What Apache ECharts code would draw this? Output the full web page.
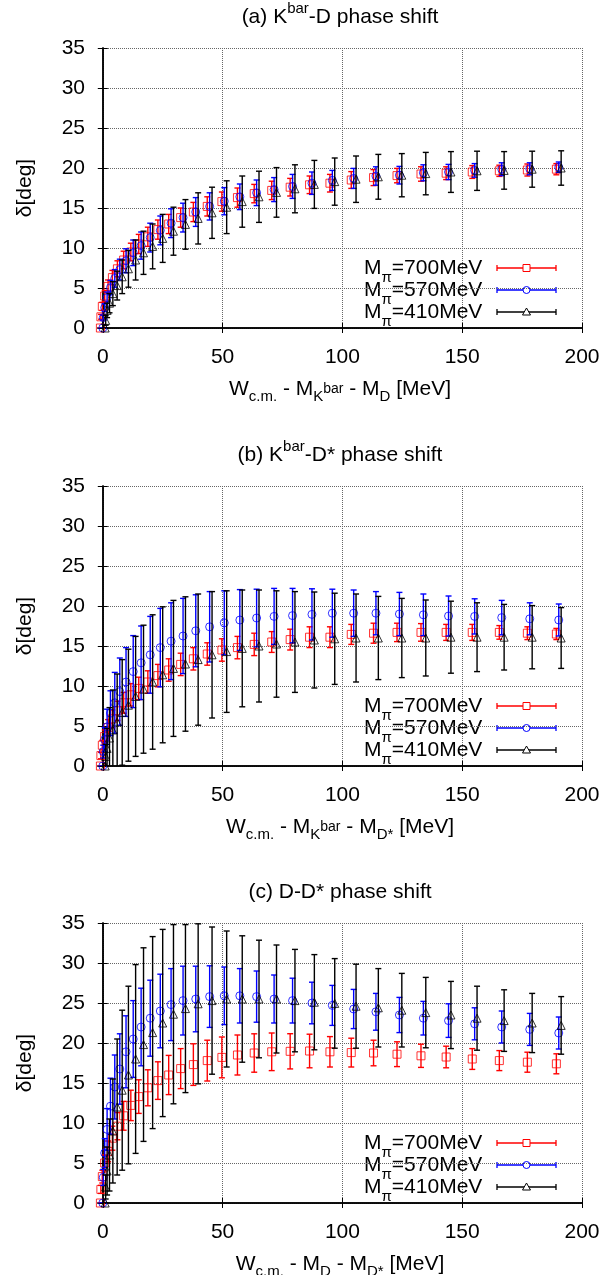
<!DOCTYPE html>
<html><head><meta charset="utf-8">
<script src="https://cdn.jsdelivr.net/npm/echarts@6/dist/echarts.min.js"></script>
<style>html,body{margin:0;padding:0;background:#fff}#c{width:605px;height:1275px}</style>
</head><body><div id="c"></div>
<script>
// ---------- data ----------
const xTicks = [0, 50, 100, 150, 200];
const seriesNames = ['700MeV', '570MeV', '410MeV'];
const xRed   = [-1.0,-0.8,-0.2,0.8,2.2,4.0,6.1,8.7,11.7,15.0,18.8,23.0,27.5,32.5,37.8,43.6,49.7,56.2,63.2,70.5,78.2,86.3,94.8,103.7,113.0,122.8,132.8,143.3,154.2,165.5,177.2,189.3];
const xBlue  = [0,0.2,0.8,1.8,3.2,5.0,7.1,9.7,12.7,16.0,19.8,24.0,28.5,33.5,38.8,44.6,50.7,57.2,64.2,71.5,79.2,87.3,95.8,104.7,114.0,123.8,133.8,144.3,155.2,166.5,178.2,190.3];
const xBlack = [1.0,1.2,1.8,2.8,4.2,6.0,8.1,10.7,13.7,17.0,20.8,25.0,29.5,34.5,39.8,45.6,51.7,58.2,65.2,72.5,80.2,88.3,96.8,105.7,115.0,124.8,134.8,145.3,156.2,167.5,179.2,191.3];

const aRed      = [0,1.4,2.7,4.0,5.2,6.3,7.4,8.5,9.5,10.5,11.4,12.3,13.0,13.8,14.5,15.2,15.8,16.3,16.8,17.2,17.6,17.9,18.1,18.5,18.8,19.05,19.25,19.35,19.5,19.65,19.75,19.85];
const aRedErr   = [0,0.3,0.5,0.7,0.8,0.9,1.0,1.1,1.1,1.2,1.2,1.2,1.2,1.2,1.2,1.2,1.2,1.2,1.15,1.15,1.1,1.1,1.1,1.05,1.0,0.9,0.9,0.8,0.8,0.7,0.75,0.7];
const aBlue     = [0,1.3,2.55,3.8,5.05,6.2,7.3,8.4,9.4,10.3,11.3,12.2,13.1,13.8,14.5,15.2,15.85,16.4,16.9,17.3,17.7,18.1,18.45,18.7,19.0,19.1,19.4,19.5,19.7,19.85,19.9,20.1];
const aBlueErr  = [0,0.3,0.5,0.7,0.9,1.1,1.3,1.5,1.6,1.7,1.8,1.8,1.8,1.8,1.8,1.7,1.7,1.6,1.6,1.5,1.5,1.4,1.25,1.25,1.15,1.1,1.0,0.95,0.85,0.8,0.75,0.65];
const aBlack    = [0,0.95,2.2,3.1,4.3,5.3,6.4,7.4,8.5,9.4,10.2,11.2,12.1,12.95,13.7,14.4,15.1,15.8,16.4,16.95,17.4,17.95,18.3,18.6,18.9,19.1,19.3,19.5,19.65,19.7,19.85,20.0];
const aBlackErr = [0,0.6,0.9,1.2,1.5,1.8,2.1,2.3,2.5,2.7,2.8,3.0,3.0,3.1,3.2,3.2,3.3,3.2,3.2,3.1,3.0,3.0,2.95,2.9,2.8,2.7,2.65,2.55,2.45,2.35,2.25,2.15];

const bRed      = [0,1.3,2.6,3.7,4.8,5.9,6.9,7.9,8.9,9.7,10.5,11.3,12.0,12.7,13.4,14.0,14.5,14.8,15.2,15.5,15.8,16.1,16.1,16.45,16.6,16.7,16.7,16.7,16.7,16.7,16.6,16.5];
const bRedErr   = [0,0.4,0.6,0.8,1.0,1.1,1.2,1.3,1.4,1.4,1.4,1.4,1.4,1.4,1.4,1.4,1.4,1.4,1.4,1.3,1.3,1.3,1.3,1.25,1.25,1.15,1.1,1.0,1.0,0.85,0.8,0.7];
const bBlue     = [0,1.8,3.3,4.9,6.6,7.9,9.3,10.5,11.8,12.9,13.9,14.8,15.6,16.25,16.9,17.4,17.9,18.25,18.5,18.7,18.8,18.95,19.1,19.1,19.1,19.0,18.9,18.75,18.7,18.55,18.4,18.25];
const bBlueErr  = [0,0.8,1.5,2.2,2.8,3.8,4.2,4.3,4.5,4.6,4.8,4.9,4.8,4.7,4.5,4.4,4.0,3.8,3.6,3.5,3.4,3.2,3.0,2.9,2.7,2.7,2.6,2.5,2.2,2.15,2.0,2.0];
const bBlack    = [0,1.2,2.2,3.5,4.5,5.5,6.7,7.6,8.7,9.6,10.5,11.4,12.2,12.75,13.3,13.9,14.3,14.7,15.0,15.25,15.5,15.75,15.9,16.0,16.0,16.0,16.0,16.1,16.1,16.1,16.1,16.0];
const bBlackErr = [0,1.5,2.5,3.8,5.0,6.0,6.6,7.0,7.5,8.0,8.4,8.5,8.5,8.4,8.2,7.9,7.6,7.3,7.0,6.65,6.3,6.0,5.7,5.5,5.2,4.95,4.75,4.5,4.3,4.1,3.95,3.8];

const cRed      = [0,1.7,3.3,5.0,6.45,8.1,9.6,10.9,12.2,13.3,14.4,15.3,16.0,16.8,17.3,17.8,18.2,18.5,18.75,18.9,18.96,19.0,18.9,18.8,18.75,18.6,18.4,18.25,18.0,17.8,17.6,17.4];
const cRedErr   = [0,0.5,0.8,1.0,1.3,1.5,1.7,1.8,1.9,2.1,2.25,2.35,2.45,2.5,2.6,2.55,2.55,2.5,2.4,2.35,2.2,2.1,1.9,1.8,1.6,1.55,1.45,1.35,1.3,1.25,1.25,1.25];
const cBlue     = [0,3.2,6.25,9.2,12.1,14.5,16.75,18.9,20.5,22.0,23.1,24.0,24.8,25.3,25.5,25.8,25.9,25.9,25.8,25.5,25.3,25.0,24.7,24.25,23.9,23.5,23.1,22.8,22.4,22.0,21.7,21.25];
const cBlueErr  = [0,1.0,1.8,2.6,3.5,4.0,4.4,4.5,4.8,4.85,4.75,4.6,4.5,4.3,4.1,3.85,3.6,3.4,3.2,3.0,2.8,2.6,2.5,2.45,2.3,2.2,2.1,2.1,2.0,2.0,2.0,2.0];
const cBlack    = [0,2.0,4.0,6.0,9.0,12.0,14.1,16.0,18.0,19.8,21.3,22.5,23.6,24.3,24.9,25.3,25.5,25.5,25.5,25.5,25.3,25.1,24.95,24.6,24.4,24.1,23.8,23.5,23.1,22.8,22.5,22.2];
const cBlackErr = [0,1.5,3.0,4.5,6.5,8.5,10.0,11.1,11.8,12.1,12.0,11.7,11.2,10.5,10.0,9.2,8.5,7.9,7.35,6.75,6.4,5.95,5.6,5.25,4.9,4.6,4.4,4.2,4.0,3.85,3.7,3.6];

// ---------- layout / style ----------
const FONT = '"Liberation Sans", Arial, Helvetica, sans-serif';
const FS = 21;
const COLORS = ['#ff0000', '#0000ff', '#000000'];
const SYMBOLS = ['rect', 'circle', 'triangle'];
const GRID_LEFT = 98, GRID_W = 484, GRID_H = 280;
const TOPS = [48, 486, 923];

const panels = [
  { title: '{n|(a) K}{sup|bar}{n|-D phase shift}',
    xname: '{n|W}{sub|c.m.}{n| - M}{sub|K}{mid|bar}{n| - M}{sub|D}{n| [MeV]}',
    ys: [aRed, aBlue, aBlack], es: [aRedErr, aBlueErr, aBlackErr] },
  { title: '{n|(b) K}{sup|bar}{n|-D* phase shift}',
    xname: '{n|W}{sub|c.m.}{n| - M}{sub|K}{mid|bar}{n| - M}{sub|D*}{n| [MeV]}',
    ys: [bRed, bBlue, bBlack], es: [bRedErr, bBlueErr, bBlackErr] },
  { title: '{n|(c) D-D* phase shift}',
    xname: '{n|W}{sub|c.m.}{n| - M}{sub|D}{n| - M}{sub|D*}{n| [MeV]}',
    ys: [cRed, cBlue, cBlack], es: [cRedErr, cBlueErr, cBlackErr] }
];
const xs = [xRed, xBlue, xBlack];

const nameRich = {
  n:   { fontSize: FS, fontFamily: FONT, color: '#000', lineHeight: 25, verticalAlign: 'top' },
  sub: { fontSize: 15, fontFamily: FONT, color: '#000', verticalAlign: 'bottom' },
  mid: { fontSize: 14, fontFamily: FONT, color: '#000', verticalAlign: 'top', padding: [3, 0, 0, 0] }
};
const titleRich = {
  n:   { fontSize: FS, fontFamily: FONT, fill: '#000', color: '#000', lineHeight: 26, verticalAlign: 'bottom' },
  sup: { fontSize: 15, fontFamily: FONT, fill: '#000', color: '#000', verticalAlign: 'top' }
};
const legRich = {
  n: { fontSize: FS, fontFamily: FONT, fill: '#000', color: '#000', lineHeight: 28, verticalAlign: 'top' },
  s: { fontSize: 15, fontFamily: FONT, fill: '#000', color: '#000', verticalAlign: 'bottom' }
};

function errRender(color) {
  return function (params, api) {
    const x = api.value(0), y = api.value(1), e = api.value(2);
    const lo = api.coord([x, y - e]), hi = api.coord([x, y + e]);
    const w = 3;
    const st = { stroke: color, lineWidth: 1.4 };
    return { type: 'group', children: [
      { type: 'line', shape: { x1: lo[0], y1: lo[1], x2: hi[0], y2: hi[1] }, style: st },
      { type: 'line', shape: { x1: lo[0] - w, y1: lo[1], x2: lo[0] + w, y2: lo[1] }, style: st },
      { type: 'line', shape: { x1: hi[0] - w, y1: hi[1], x2: hi[0] + w, y2: hi[1] }, style: st }
    ]};
  };
}

const grid = [], xAxis = [], yAxis = [], series = [], graphic = [];
panels.forEach((p, i) => {
  const top = TOPS[i], bottom = top + GRID_H;
  grid.push({ left: GRID_LEFT, top: top, width: GRID_W, height: GRID_H, outerBoundsMode: 'none', containLabel: false });
  const axLine = { show: true, lineStyle: { color: '#000', width: 1.5 } };
  xAxis.push({
    type: 'value', gridIndex: i, position: 'bottom', min: -2, max: 200,
    axisLine: axLine,
    axisTick: { show: true, inside: true, length: 5, customValues: xTicks, lineStyle: { color: '#000', width: 1 } },
    axisLabel: { show: true, customValues: xTicks, margin: 19, fontSize: FS, fontFamily: FONT, color: '#000' },
    splitLine: { show: true, lineStyle: { type: 'dotted', color: '#666', width: 1 } },
    name: p.xname, nameLocation: 'middle', nameGap: 51,
    nameTextStyle: { fontSize: FS, fontFamily: FONT, color: '#000', rich: nameRich }
  });
  xAxis.push({
    type: 'value', gridIndex: i, position: 'top', min: -2, max: 200,
    axisLine: axLine,
    axisTick: { show: true, inside: true, length: 5, customValues: xTicks, lineStyle: { color: '#000', width: 1 } },
    axisLabel: { show: false }, splitLine: { show: false }
  });
  yAxis.push({
    type: 'value', gridIndex: i, position: 'left', min: 0, max: 35, interval: 5,
    axisLine: axLine,
    axisTick: { show: true, inside: true, length: 5, lineStyle: { color: '#000', width: 1 } },
    axisLabel: { show: true, margin: 13, fontSize: FS, fontFamily: FONT, color: '#000' },
    splitLine: { show: true, lineStyle: { type: 'dotted', color: '#666', width: 1 } },
    name: 'δ[deg]', nameLocation: 'middle', nameGap: 62,
    nameTextStyle: { fontSize: FS, fontFamily: FONT, color: '#000' }
  });
  yAxis.push({
    type: 'value', gridIndex: i, position: 'right', min: 0, max: 35, interval: 5,
    axisLine: axLine,
    axisTick: { show: true, inside: true, length: 5, lineStyle: { color: '#000', width: 1 } },
    axisLabel: { show: false }, splitLine: { show: false }
  });

  for (let s = 0; s < 3; s++) {
    const xv = xs[s], yv = p.ys[s], ev = p.es[s];
    const errData = yv.map((v, k) => [xv[k], v, ev[k]]);
    const ptData = yv.map((v, k) => [xv[k], v]);
    series.push({
      type: 'custom', xAxisIndex: 2 * i, yAxisIndex: 2 * i, clip: true, silent: true,
      renderItem: errRender(COLORS[s]), encode: { x: 0, y: 1 }, data: errData, z: 2 + s * 2
    });
    series.push({
      type: 'scatter', xAxisIndex: 2 * i, yAxisIndex: 2 * i, silent: true,
      symbol: SYMBOLS[s], symbolSize: 8, data: ptData, z: 3 + s * 2,
      itemStyle: { color: 'rgba(255,255,255,0)', borderColor: COLORS[s], borderWidth: 1 }
    });
  }

  // title
  graphic.push({ type: 'text', x: 340, y: top - 31 - 2.5, silent: true,
    style: { text: p.title, rich: titleRich, align: 'center', verticalAlign: 'middle', fontSize: FS, fontFamily: FONT, fill: '#000' } });

  // legend (gnuplot style key)
  const rows = [bottom - 60, bottom - 38, bottom - 16];
  rows.forEach((ry, s) => {
    const c = COLORS[s];
    graphic.push({ type: 'text', x: 364, y: ry + 3.5, silent: true,
      style: { text: '{n|M}{s|π}{n|=' + seriesNames[s] + '}', rich: legRich, align: 'left', verticalAlign: 'middle', fontSize: FS, fontFamily: FONT, fill: '#000' } });
    const st = { stroke: c, lineWidth: 1.3 };
    graphic.push({ type: 'line', silent: true, shape: { x1: 497, y1: ry, x2: 556, y2: ry }, style: st });
    graphic.push({ type: 'line', silent: true, shape: { x1: 497, y1: ry - 3, x2: 497, y2: ry + 3 }, style: st });
    graphic.push({ type: 'line', silent: true, shape: { x1: 556, y1: ry - 3, x2: 556, y2: ry + 3 }, style: st });
    const cx = 526.5;
    const mst = { stroke: c, lineWidth: 1, fill: '#fff' };
    if (s === 0) graphic.push({ type: 'rect', silent: true, shape: { x: cx - 3.5, y: ry - 3.5, width: 7, height: 7 }, style: mst });
    else if (s === 1) graphic.push({ type: 'circle', silent: true, shape: { cx: cx, cy: ry, r: 3.5 }, style: mst });
    else graphic.push({ type: 'polygon', silent: true, shape: { points: [[cx, ry - 4], [cx + 4, ry + 3], [cx - 4, ry + 3]] }, style: mst });
  });
});

const chart = echarts.init(document.getElementById('c'), null, { renderer: 'canvas' });
chart.setOption({
  animation: false,
  backgroundColor: '#fff',
  grid, xAxis, yAxis, series,
  graphic: { elements: graphic }
});
</script>
</body></html>
